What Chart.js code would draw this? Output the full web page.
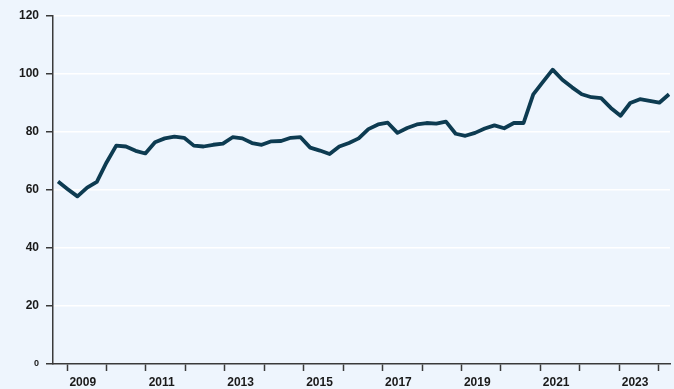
<!DOCTYPE html>
<html>
<head>
<meta charset="utf-8">
<script src="https://cdn.jsdelivr.net/npm/chart.js@4/dist/chart.umd.min.js"></script>
<style>
  html, body { margin: 0; padding: 0; background: #eef5fd; }
  #wrap { width: 674px; height: 389px; }
</style>
</head>
<body>
<div id="wrap"><canvas id="chart"></canvas></div>
<script>
// quarterly readings, Q4 2008 through Q3 2024
const quarters = [
  '2008Q4',
  '2009Q1','2009Q2','2009Q3','2009Q4',
  '2010Q1','2010Q2','2010Q3','2010Q4',
  '2011Q1','2011Q2','2011Q3','2011Q4',
  '2012Q1','2012Q2','2012Q3','2012Q4',
  '2013Q1','2013Q2','2013Q3','2013Q4',
  '2014Q1','2014Q2','2014Q3','2014Q4',
  '2015Q1','2015Q2','2015Q3','2015Q4',
  '2016Q1','2016Q2','2016Q3','2016Q4',
  '2017Q1','2017Q2','2017Q3','2017Q4',
  '2018Q1','2018Q2','2018Q3','2018Q4',
  '2019Q1','2019Q2','2019Q3','2019Q4',
  '2020Q1','2020Q2','2020Q3','2020Q4',
  '2021Q1','2021Q2','2021Q3','2021Q4',
  '2022Q1','2022Q2','2022Q3','2022Q4',
  '2023Q1','2023Q2','2023Q3','2023Q4',
  '2024Q1','2024Q2','2024Q3'
];

const values = [
  62.9,
  60.3, 57.8, 60.8, 62.8,
  69.5, 75.3, 75.0, 73.5,
  72.6, 76.5, 77.8, 78.4,
  78.0, 75.3, 75.0, 75.6,
  76.0, 78.2, 77.8, 76.2,
  75.6, 76.8, 76.9, 78.0,
  78.2, 74.6, 73.6, 72.4,
  75.0, 76.2, 77.8, 81.0,
  82.6, 83.2, 79.7, 81.4,
  82.6, 83.1, 82.9, 83.6,
  79.4, 78.7, 79.7, 81.2,
  82.3, 81.3, 83.1, 83.1,
  93.0, 97.3, 101.5, 98.0,
  95.4, 93.0, 92.0, 91.7,
  88.3, 85.6, 90.0, 91.3,
  90.7, 90.1, 93.0
];

// year tick marks along the bottom, labels every other year
const tickYears = [2009, 2010, 2011, 2012, 2013, 2014, 2015, 2016,
                   2017, 2018, 2019, 2020, 2021, 2022, 2023, 2024];
const labelYears = [2009, 2011, 2013, 2015, 2017, 2019, 2021, 2023];

const axisColor = '#3a3a3a';
const lineColor = '#0d3b51';
const labelFont = { family: '"Liberation Sans", Arial, sans-serif', size: 12, weight: 'bold' };

const config = {
  type: 'line',
  data: {
    labels: quarters,
    datasets: [{
      data: values.map((v, i) => ({ x: i, y: v })),
      xAxisID: 'idx',
      borderColor: lineColor,
      borderWidth: 3.8,
      borderJoinStyle: 'round',
      pointRadius: 0,
      tension: 0,
      fill: false
    }]
  },
  options: {
    responsive: false,
    animation: false,
    layout: { padding: { left: 0, right: 4, top: 16, bottom: 0 } },
    plugins: { legend: { display: false }, tooltip: { enabled: false } },
    scales: {
      // hidden axis the series is plotted on (one step per quarter)
      idx: {
        type: 'linear',
        display: false,
        min: -0.52,
        max: 63.1
      },
      // calendar year axis: tick marks at each Jan, labels mid-year
      x: {
        type: 'linear',
        position: 'bottom',
        min: 2008.645,
        max: 2024.285,
        afterBuildTicks: (scale) => {
          const t = tickYears.map(v => ({ value: v }));
          labelYears.forEach(y => t.push({ value: y + 0.4 }));
          scale.ticks = t;
        },
        afterFit: (scale) => { scale.height = 25; },
        border: { display: true, color: axisColor, width: 1.5 },
        grid: {
          drawOnChartArea: false,
          drawTicks: true,
          tickLength: 7,
          tickWidth: 1.5,
          tickColor: (ctx) => Number.isInteger(ctx.tick.value) ? axisColor : 'rgba(0,0,0,0)'
        },
        ticks: {
          autoSkip: false,
          maxRotation: 0,
          padding: 4,
          color: '#1a1a1a',
          font: labelFont,
          callback: (v) => Number.isInteger(v) ? '' : String(Math.round(v - 0.4))
        }
      },
      y: {
        min: 0,
        max: 120,
        afterFit: (scale) => { scale.width = 53; },
        border: { display: true, color: axisColor, width: 1.5 },
        grid: {
          color: (ctx) => ctx.tick.value === 0 ? 'rgba(0,0,0,0)' : '#ffffff',
          lineWidth: 1.5,
          tickLength: 7,
          tickWidth: 1.5,
          tickColor: axisColor
        },
        ticks: {
          stepSize: 20,
          padding: 7,
          color: '#1a1a1a',
          font: (ctx) => ctx.tick && ctx.tick.value === 0
            ? Object.assign({}, labelFont, { size: 9 })
            : labelFont
        }
      }
    }
  }
};

const canvas = document.getElementById('chart');
canvas.width = 674;
canvas.height = 389;
new Chart(canvas, config);
</script>
</body>
</html>
